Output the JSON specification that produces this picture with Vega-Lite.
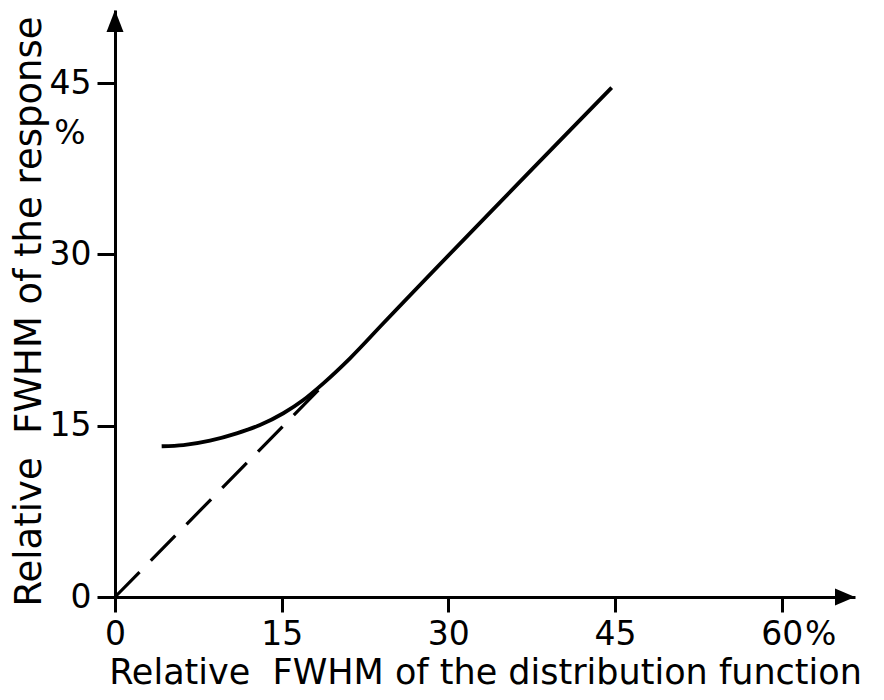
{
  "$schema": "https://vega.github.io/schema/vega-lite/v6.json",
  "width": 740,
  "height": 587,
  "autosize": "none",
  "padding": {"left": 115, "top": 10, "right": 29, "bottom": 103},
  "background": "white",
  "config": {"view": {"stroke": null}, "font": "DejaVu Sans"},
  "datasets": {
    "curve": [
      {"x": 4.2, "y": 13.2},
      {"x": 6.15, "y": 13.3},
      {"x": 8.55, "y": 13.69},
      {"x": 10.95, "y": 14.33},
      {"x": 13.05, "y": 15.06},
      {"x": 15.15, "y": 16.09},
      {"x": 16.95, "y": 17.25},
      {"x": 18.75, "y": 18.71},
      {"x": 21.15, "y": 20.9},
      {"x": 24.15, "y": 23.97},
      {"x": 44.7, "y": 44.6}
    ],
    "dashed": [
      {"x": 0, "y": 0},
      {"x": 19.0, "y": 18.8}
    ],
    "arrows": [
      {"x": 0, "y": 51.4, "dir": "up"},
      {"x": 66.6, "y": 0, "dir": "right"}
    ],
    "units": [
      {"x": -4.05, "y": 40.5, "t": "%"},
      {"x": 63.5, "y": -3.35, "t": "%"}
    ]
  },
  "layer": [
    {
      "data": {"name": "curve"},
      "mark": {"type": "line", "color": "black", "strokeWidth": 3.8, "interpolate": "monotone"},
      "encoding": {
        "x": {
          "field": "x", "type": "quantitative",
          "scale": {"domain": [0, 66.6], "nice": false, "zero": false},
          "axis": {
            "values": [0, 15, 30, 45, 60],
            "grid": false,
            "domainColor": "black", "domainWidth": 3,
            "tickColor": "black", "tickWidth": 3, "tickSize": 15,
            "labelFontSize": 33, "labelColor": "black", "labelPadding": 6,
            "labelFlush": false, "labelOverlap": false,
            "title": "Relative\u00a0 FWHM of the distribution function",
            "titleFontSize": 35, "titleFontWeight": "normal", "titleColor": "black",
            "titlePadding": 4
          }
        },
        "y": {
          "field": "y", "type": "quantitative",
          "scale": {"domain": [0, 51.4], "nice": false, "zero": false},
          "axis": {
            "values": [0, 15, 30, 45],
            "grid": false,
            "domainColor": "black", "domainWidth": 3,
            "tickColor": "black", "tickWidth": 3, "tickSize": 18,
            "labelFontSize": 33, "labelColor": "black", "labelPadding": 6,
            "labelFlush": false, "labelOverlap": false,
            "title": "Relative\u00a0 FWHM of the response",
            "titleFontSize": 37, "titleFontWeight": "normal", "titleColor": "black",
            "titlePadding": 1,
            "titleY": 301
          }
        }
      }
    },
    {
      "data": {"name": "dashed"},
      "mark": {"type": "line", "color": "black", "strokeWidth": 3.2, "strokeDash": [35, 16]},
      "encoding": {
        "x": {"field": "x", "type": "quantitative"},
        "y": {"field": "y", "type": "quantitative"}
      }
    },
    {
      "data": {"name": "arrows"},
      "mark": {"type": "point", "filled": true, "color": "black", "opacity": 1, "size": 400},
      "encoding": {
        "x": {"field": "x", "type": "quantitative"},
        "y": {"field": "y", "type": "quantitative"},
        "shape": {
          "field": "dir", "type": "nominal",
          "scale": {"domain": ["up", "right"], "range": ["M0,0L-0.85,2.2L0.85,2.2Z", "M0,0L-2.0,-0.85L-2.0,0.85Z"]},
          "legend": null
        }
      }
    },
    {
      "data": {"name": "units"},
      "mark": {"type": "text", "color": "black", "fontSize": 33, "align": "center", "baseline": "middle"},
      "encoding": {
        "x": {"field": "x", "type": "quantitative"},
        "y": {"field": "y", "type": "quantitative"},
        "text": {"field": "t", "type": "nominal"}
      }
    }
  ]
}
